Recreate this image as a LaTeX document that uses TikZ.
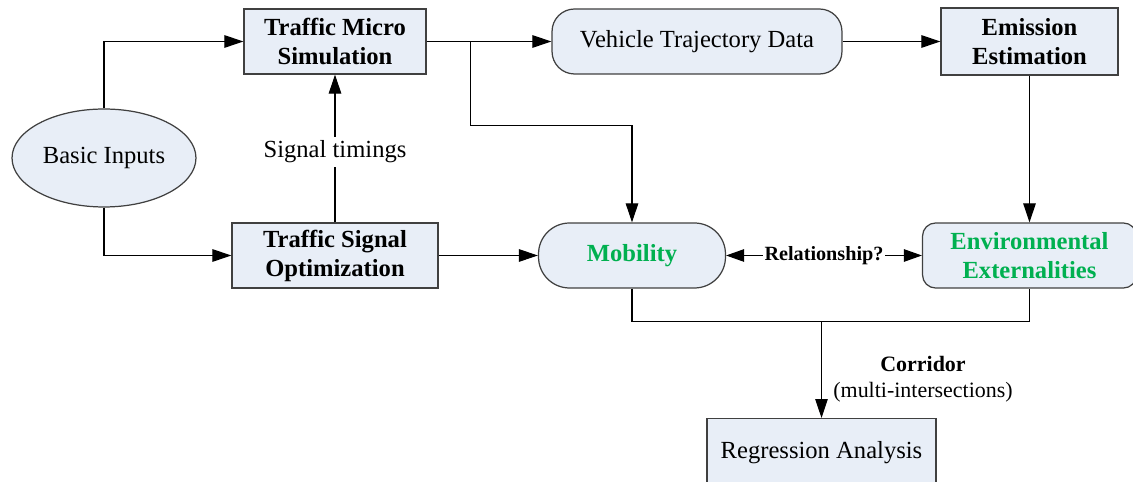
\documentclass[tikz,border=0pt]{standalone}
\usepackage{fontspec}
\setmainfont{Liberation Serif}
\usepackage{tikz}
\usetikzlibrary{arrows.meta}
\usetikzlibrary{shapes.geometric}

\definecolor{boxfill}{HTML}{E8EEF7}
\definecolor{boxline}{HTML}{404040}
\definecolor{outgreen}{HTML}{00B050}

\tikzset{
  block/.style={draw=boxline, fill=boxfill, line width=0.7pt, align=center, inner sep=0pt,
    minimum height=1.3cm, font=\fontsize{14}{17}\selectfont},
  boldblock/.style={block, font=\fontsize{14}{16.5}\selectfont\bfseries},
  flow/.style={-{Triangle[length=0.38cm,width=0.25cm]}, line width=0.6pt},
  both/.style={{Triangle[length=0.36cm,width=0.25cm]}-{Triangle[length=0.36cm,width=0.25cm]}, line width=0.6pt},
}

\begin{document}
\begin{tikzpicture}[x=0.02cm, y=-0.02cm]
      \clip (0,0) rectangle (1133,482);
      \node[block, ellipse, minimum width=3.68cm, minimum height=1.96cm] (inputs) at (104,158) {Basic Inputs};
      \node[boldblock, minimum width=3.64cm] (sim) at (335,41.5) {Traffic Micro\\Simulation};
      \node[boldblock, minimum width=4.12cm] (opt) at (335,255.5) {Traffic Signal\\Optimization};
      \node[block, rounded corners=0.45cm, minimum width=5.8cm] (traj) at (697,41.5) {Vehicle Trajectory Data};
      \node[boldblock, minimum width=3.54cm, minimum height=1.34cm] (emis) at (1029.5,41.5) {Emission\\Estimation};
      \node[boldblock, rounded corners=0.62cm, minimum width=3.74cm, text=outgreen] (mob) at (632,255.5) {Mobility};
      \node[boldblock, rounded corners=0.26cm, minimum width=4.28cm, text=outgreen] (env) at (1029.5,255.5) {Environmental\\Externalities};
      \node[block, anchor=north, minimum width=4.58cm, minimum height=1.36cm] (reg) at (821.5,418) {Regression Analysis};

      \draw[flow] (inputs.north) |- (sim.west);
      \draw[flow] (inputs.south) |- (opt.west);
      \draw[flow] (opt.north) -- (sim.south) node[midway, fill=white, inner sep=2pt, yshift=-2pt, font=\fontsize{14}{16}\selectfont] (timing) {Signal timings};
      \draw[flow] (opt.east) -- (mob.west);
      \draw[flow] (sim.east) -- (traj.west);
      \coordinate (split) at (470.5,41.5);
      \draw[flow] (split) -- ++(0,84) -| (mob.north);
      \draw[flow] (traj.east) -- (emis.west);
      \draw[flow] (emis.south) -- (env.north);
      \draw[both] (mob.east) -- (env.west) node[midway, fill=white, inner sep=1pt, font=\fontsize{11.5}{13}\selectfont\bfseries] (rel) {Relationship?};
      % bottom join towards the analysis box
      \coordinate (join) at (821.5,321.7);
      \draw[line width=0.6pt] (mob.south) |- (join) -| (env.south);
      \draw[flow] (join) -- (reg.north);
      \node[font=\fontsize{12.5}{14}\selectfont\bfseries] (corr) at (923,364) {Corridor};
      \node[font=\fontsize{12.5}{14}\selectfont] (multi) at (923,392) {(multi-intersections)};
\end{tikzpicture}
\end{document}
